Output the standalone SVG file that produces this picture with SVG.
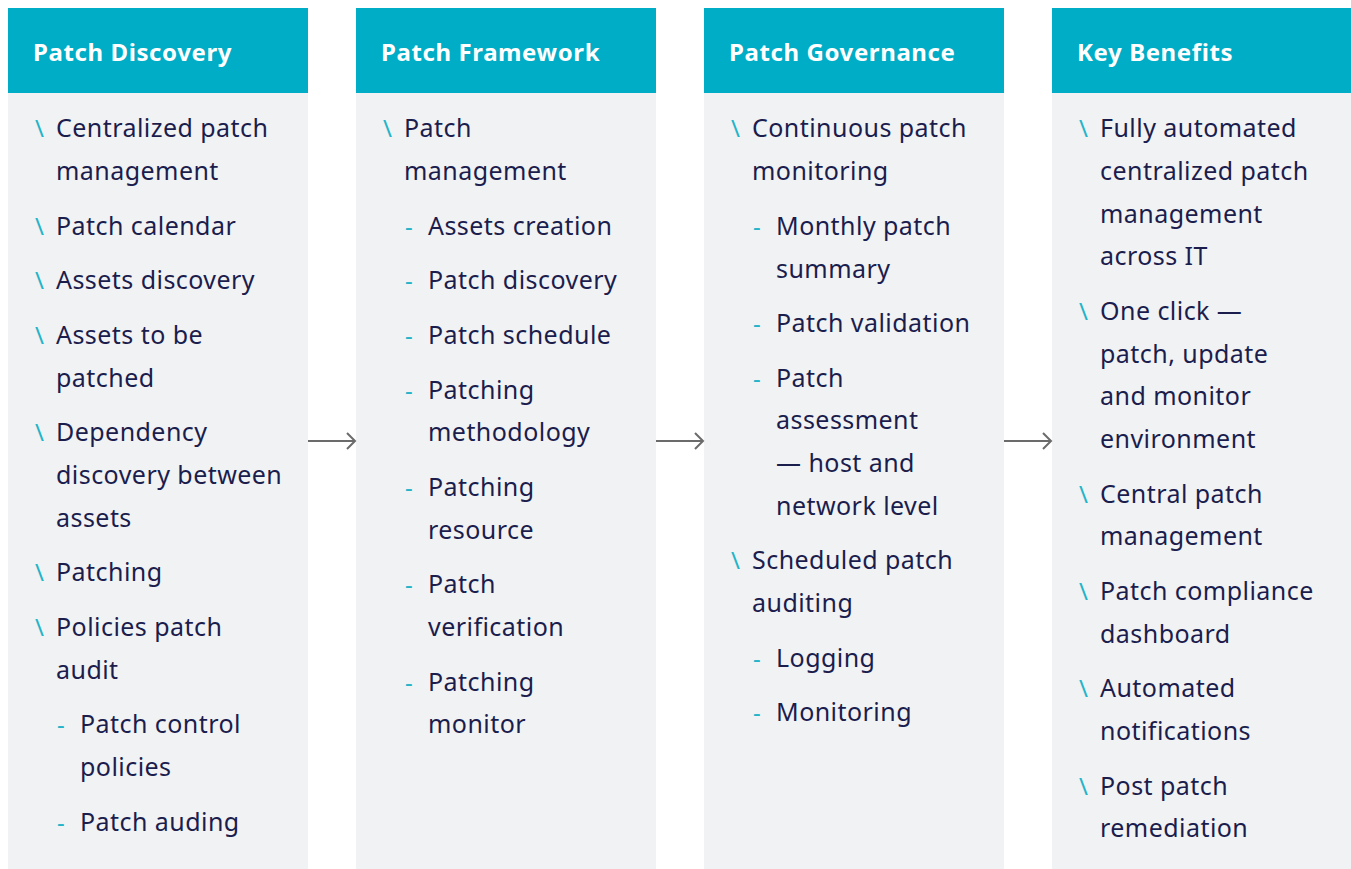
<svg xmlns="http://www.w3.org/2000/svg" width="1351" height="869" viewBox="0 0 1351 869">
<style>
.body{fill:#f1f2f4}
.head{fill:#00adc6}
.ht{font-family:"Noto Sans","Liberation Sans",sans-serif;font-weight:bold;font-size:24px;letter-spacing:0.6px;fill:#ffffff}
.t{font-family:"Noto Sans","Liberation Sans",sans-serif;font-size:25px;letter-spacing:0.45px;fill:#1b1d4d}
.b{font-family:"Noto Sans","Liberation Sans",sans-serif;font-size:24px;fill:#22b4c8}
.arr{stroke:#6b6b6b;stroke-width:2;fill:none}
</style>
<rect width="1351" height="869" fill="#ffffff"/>
<g id="col-discovery">
<rect class="body" x="8" y="93" width="300" height="776"/>
<rect class="head" x="8" y="8" width="300" height="85"/>
<text class="ht" x="33" y="61">Patch Discovery</text>
<g class="b"><text x="35" y="137">\</text><text x="35" y="235">\</text><text x="35" y="289">\</text><text x="35" y="344">\</text><text x="35" y="441">\</text><text x="35" y="581">\</text><text x="35" y="636">\</text><text x="57" y="733">-</text><text x="57" y="831">-</text></g>
<g class="t">
<text x="56" y="137">Centralized patch</text><text x="56" y="180">management</text>
<text x="56" y="235">Patch calendar</text>
<text x="56" y="289">Assets discovery</text>
<text x="56" y="344">Assets to be</text><text x="56" y="387">patched</text>
<text x="56" y="441">Dependency</text><text x="56" y="484">discovery between</text><text x="56" y="527">assets</text>
<text x="56" y="581">Patching</text>
<text x="56" y="636">Policies patch</text><text x="56" y="679">audit</text>
<text x="80" y="733">Patch control</text><text x="80" y="776">policies</text>
<text x="80" y="831">Patch auding</text>
</g>
</g>
<g id="col-framework">
<rect class="body" x="356" y="93" width="300" height="776"/>
<rect class="head" x="356" y="8" width="300" height="85"/>
<text class="ht" x="381" y="61">Patch Framework</text>
<g class="b"><text x="383" y="137">\</text><text x="405" y="235">-</text><text x="405" y="289">-</text><text x="405" y="344">-</text><text x="405" y="399">-</text><text x="405" y="496">-</text><text x="405" y="593">-</text><text x="405" y="691">-</text></g>
<g class="t">
<text x="404" y="137">Patch</text><text x="404" y="180">management</text>
<text x="428" y="235">Assets creation</text>
<text x="428" y="289">Patch discovery</text>
<text x="428" y="344">Patch schedule</text>
<text x="428" y="399">Patching</text><text x="428" y="441">methodology</text>
<text x="428" y="496">Patching</text><text x="428" y="539">resource</text>
<text x="428" y="593">Patch</text><text x="428" y="636">verification</text>
<text x="428" y="691">Patching</text><text x="428" y="733">monitor</text>
</g>
</g>
<g id="col-governance">
<rect class="body" x="704" y="93" width="300" height="776"/>
<rect class="head" x="704" y="8" width="300" height="85"/>
<text class="ht" x="729" y="61">Patch Governance</text>
<g class="b"><text x="731" y="137">\</text><text x="753" y="235">-</text><text x="753" y="332">-</text><text x="753" y="387">-</text><text x="731" y="569">\</text><text x="753" y="667">-</text><text x="753" y="721">-</text></g>
<g class="t">
<text x="752" y="137">Continuous patch</text><text x="752" y="180">monitoring</text>
<text x="776" y="235">Monthly patch</text><text x="776" y="278">summary</text>
<text x="776" y="332">Patch validation</text>
<text x="776" y="387">Patch</text><text x="776" y="429">assessment</text><text x="776" y="472">— host and</text><text x="776" y="515">network level</text>
<text x="752" y="569">Scheduled patch</text><text x="752" y="612">auditing</text>
<text x="776" y="667">Logging</text>
<text x="776" y="721">Monitoring</text>
</g>
</g>
<g id="col-benefits">
<rect class="body" x="1052" y="93" width="299" height="776"/>
<rect class="head" x="1052" y="8" width="299" height="85"/>
<text class="ht" x="1077" y="61">Key Benefits</text>
<g class="b"><text x="1079" y="137">\</text><text x="1079" y="320">\</text><text x="1079" y="503">\</text><text x="1079" y="600">\</text><text x="1079" y="697">\</text><text x="1079" y="795">\</text></g>
<g class="t">
<text x="1100" y="137">Fully automated</text><text x="1100" y="180">centralized patch</text><text x="1100" y="223">management</text><text x="1100" y="265">across IT</text>
<text x="1100" y="320">One click —</text><text x="1100" y="363">patch, update</text><text x="1100" y="405">and monitor</text><text x="1100" y="448">environment</text>
<text x="1100" y="503">Central patch</text><text x="1100" y="545">management</text>
<text x="1100" y="600">Patch compliance</text><text x="1100" y="643">dashboard</text>
<text x="1100" y="697">Automated</text><text x="1100" y="740">notifications</text>
<text x="1100" y="795">Post patch</text><text x="1100" y="837">remediation</text>
</g>
</g>
<g id="connectors">
<path class="arr" d="M308 441H355M347 433L355 441L347 449"/>
<path class="arr" d="M656 441H703M695 433L703 441L695 449"/>
<path class="arr" d="M1004 441H1051M1043 433L1051 441L1043 449"/>
</g>
</svg>
